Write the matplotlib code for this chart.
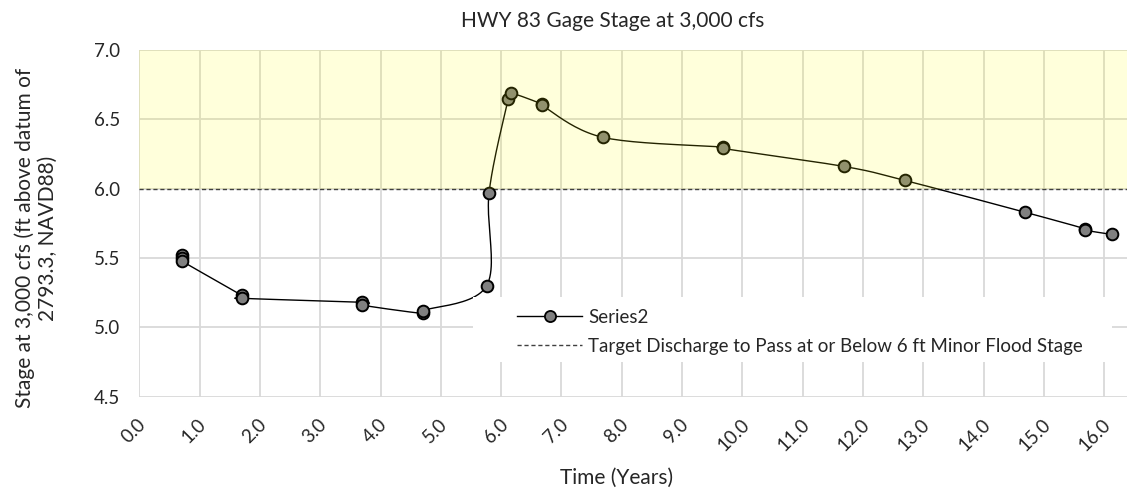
import numpy as np
import matplotlib
matplotlib.use("Agg")
import matplotlib.pyplot as plt
import matplotlib.transforms as mtransforms
from matplotlib.lines import Line2D
from matplotlib.patches import Rectangle

plt.rcParams['font.family'] = ['Lato', 'DejaVu Sans']

# Gage stage record
time_years = [0.70, 0.70, 0.70, 1.70, 1.70, 3.70, 3.70, 4.70, 4.70, 5.76, 5.80,
              6.12, 6.16, 6.68, 6.68, 7.69, 9.68, 9.68, 11.69, 12.69, 14.69,
              15.69, 15.69, 16.13]
stage_ft = [5.52, 5.50, 5.48, 5.23, 5.21, 5.18, 5.16, 5.10, 5.12, 5.30, 5.97,
            6.65, 6.69, 6.61, 6.60, 6.37, 6.30, 6.29, 6.16, 6.06, 5.83,
            5.71, 5.70, 5.67]

flood_stage = 6.0
y_top = 7.0
x_ticks = np.arange(0, 16.01, 1.0)
x_tick_labels = [f"{v:.1f}" for v in x_ticks]
y_ticks = [4.5, 5.0, 5.5, 6.0, 6.5, 7.0]

W, H = 1127, 491
fig = plt.figure(figsize=(W / 100, H / 100), dpi=100)
ax = fig.add_axes([139.3 / W, 1 - 396.7 / H, (W - 139.3) / W, (396.7 - 50) / H])
ax.set_xlim(0, (W - 139.3) / 60.3)
ax.set_ylim(4.5, 7.0)

grid_c = '#d9d9d9'
ax.set_xticks(x_ticks)
ax.set_xticklabels(x_tick_labels)
ax.set_yticks(y_ticks)
ax.set_yticklabels([f"{v:.1f}" for v in y_ticks])
ax.grid(True, color=grid_c, linewidth=1.3, zorder=0)
ax.set_axisbelow(True)
for s in ax.spines.values():
    s.set_visible(False)
ax.tick_params(length=0, labelsize=13.5, colors='#262626')
ax.tick_params(axis='y', pad=14)
ax.tick_params(axis='x', pad=18)
shift = mtransforms.ScaledTranslation(4 / 100, 0, fig.dpi_scale_trans)
for lbl in ax.get_xticklabels():
    lbl.set_rotation(45)
    lbl.set_ha('right')
    lbl.set_va('center')
    lbl.set_rotation_mode('anchor')
    lbl.set_transform(lbl.get_transform() + shift)


def smooth_path(xs, ys, n=24):
    """Smoothed curve through the points (cardinal spline in screen space)."""
    fig.canvas.draw()
    pts = ax.transData.transform(np.column_stack([xs, ys]))
    P = np.vstack([pts[0], pts, pts[-1]])
    out = []
    t = np.linspace(0, 1, n)[:, None]
    for i in range(1, len(P) - 2):
        p0, p1, p2, p3 = P[i - 1], P[i], P[i + 1], P[i + 2]
        c1 = p1 + (p2 - p0) / 6.0
        c2 = p2 - (p3 - p1) / 6.0
        seg = ((1 - t) ** 3) * p1 + 3 * ((1 - t) ** 2) * t * c1 + \
            3 * (1 - t) * t ** 2 * c2 + t ** 3 * p2
        out.append(seg)
    curve = np.vstack(out)
    data = ax.transData.inverted().transform(curve)
    return data[:, 0], data[:, 1]


cx, cy = smooth_path(time_years, stage_ft)
ax.plot(cx, cy, color='black', linewidth=1.0, zorder=3)
ax.plot(time_years, stage_ft, linestyle='none', marker='o', markersize=8.4,
        markerfacecolor='#808080', markeredgecolor='black',
        markeredgewidth=1.4, zorder=4)

# minor flood stage line and the band above it
ax.axhline(flood_stage, color='#404040', linewidth=1.0, dashes=(3, 2), zorder=2)
ax.axhspan(flood_stage, y_top, facecolor='#ffff00', alpha=0.14,
           edgecolor='none', zorder=5)

# legend panel
fig.patches.append(Rectangle((473 / W, 1 - 362 / H), (1112 - 473) / W,
                             (362 - 297) / H, transform=fig.transFigure,
                             facecolor='white', edgecolor='none', zorder=6))
handles = [
    Line2D([], [], color='black', linewidth=1.0, marker='o', markersize=8,
           markerfacecolor='#808080', markeredgecolor='black',
           markeredgewidth=1.3),
    Line2D([], [], color='#404040', linewidth=1.0, dashes=(3, 2)),
]
leg = fig.legend(handles, ['Series2',
                           'Target Discharge to Pass at or Below 6 ft Minor Flood Stage'],
                 loc='upper left', bbox_to_anchor=(517 / W, 1 - 309 / H),
                 frameon=False, fontsize=13.5, handlelength=3.47,
                 handletextpad=0.32, labelspacing=0.62, borderpad=0,
                 borderaxespad=0)
leg.set_zorder(7)
for t in leg.get_texts():
    t.set_color('#262626')

fig.text(612.5 / W, 1 - 21 / H, 'HWY 83 Gage Stage at 3,000 cfs',
         ha='center', va='center', fontsize=15, color='#262626')
fig.text(617 / W, 1 - 478 / H, 'Time (Years)', ha='center', va='center',
         fontsize=15, color='#262626')
fig.text(36 / W, 1 - 238 / H,
         'Stage at 3,000 cfs (ft above datum of\n2793.3, NAVD88)',
         ha='center', va='center', rotation=90, fontsize=15, color='#262626',
         linespacing=1.15)

fig.savefig('out.png', dpi=100)
